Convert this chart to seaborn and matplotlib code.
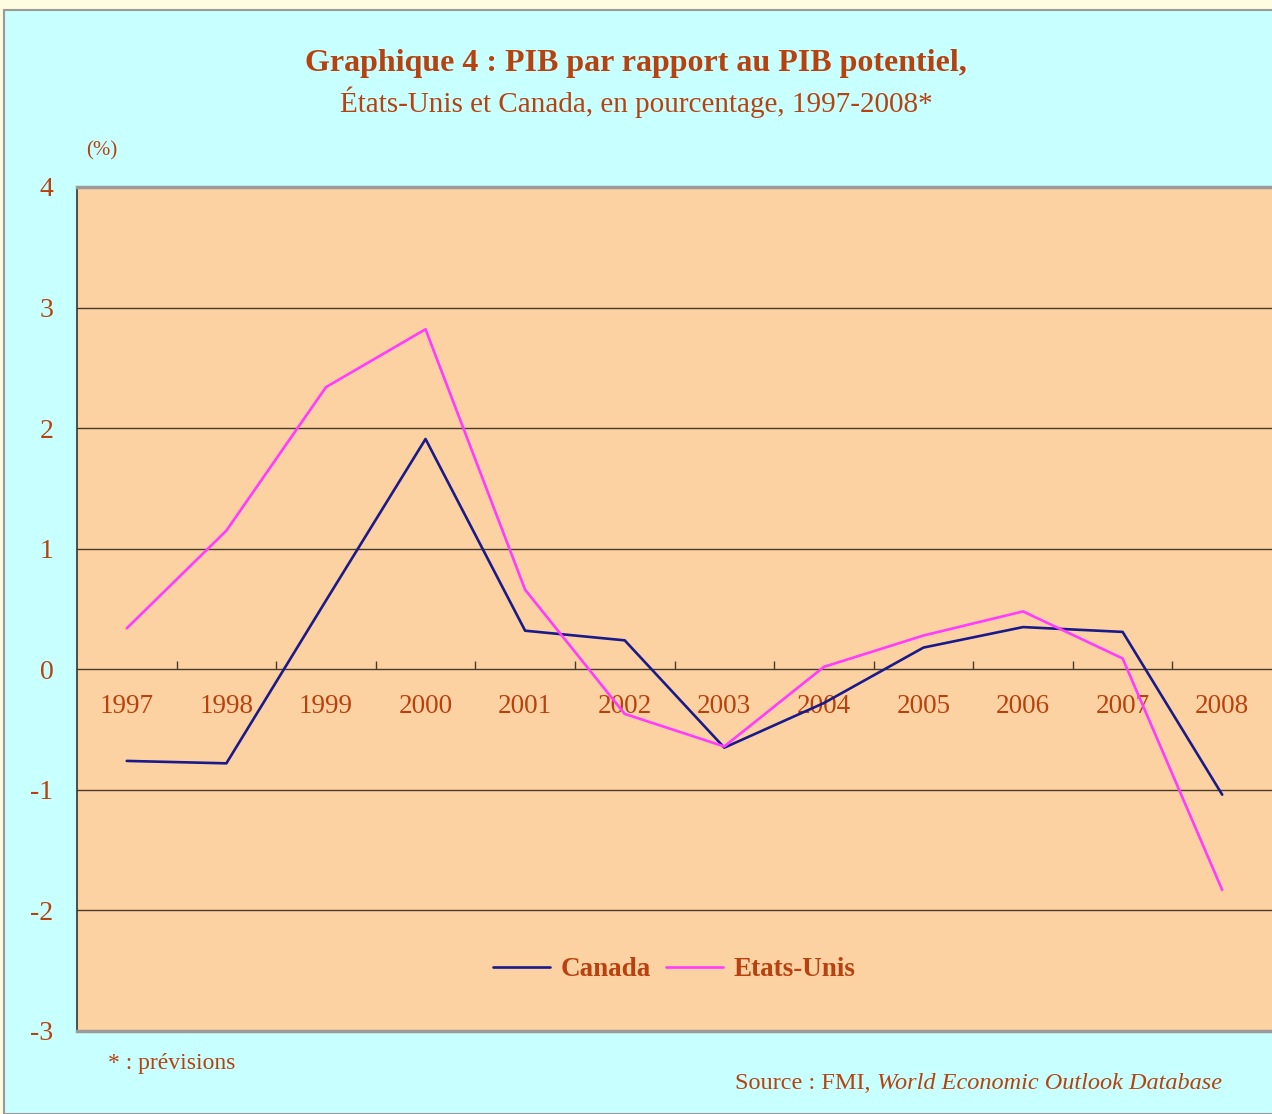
import pandas as pd
import seaborn as sns
import matplotlib.pyplot as plt
from matplotlib.patches import Rectangle

# données (écart du PIB au PIB potentiel, %)
annees = [1997, 1998, 1999, 2000, 2001, 2002, 2003, 2004, 2005, 2006, 2007, 2008]
canada = [-0.76, -0.78, 0.57, 1.91, 0.32, 0.24, -0.65, -0.28, 0.18, 0.35, 0.31, -1.04]
etats_unis = [0.34, 1.15, 2.34, 2.82, 0.66, -0.37, -0.64, 0.02, 0.28, 0.48, 0.09, -1.83]
graduations_y = [-3, -2, -1, 0, 1, 2, 3, 4]

rouille = "#B8420F"

df = pd.concat(
    [
        pd.DataFrame({"Année": annees, "Valeur": canada, "Pays": "Canada"}),
        pd.DataFrame({"Année": annees, "Valeur": etats_unis, "Pays": "Etats-Unis"}),
    ]
)

sns.set_style("white")
plt.rcParams["font.family"] = ["Liberation Serif", "DejaVu Serif"]

fig = plt.figure(figsize=(12.72, 11.14), dpi=100)
fig.patch.set_facecolor("#FFFDE0")
fig.patches.append(
    Rectangle((4 / 1272, 0), 1.0, 1 - 10 / 1114, transform=fig.transFigure,
              facecolor="#C8FFFF", edgecolor="#9A9A9A", linewidth=1.5, zorder=-5)
)

ax = fig.add_axes([77 / 1272, 1 - 1031 / 1114, 1195 / 1272, (1031 - 187) / 1114])
ax.set_facecolor("#FDD2A2")

sns.lineplot(
    data=df, x="Année", y="Valeur", hue="Pays",
    palette={"Canada": "#1A1A8A", "Etats-Unis": "#FF3CFF"},
    linewidth=1.9, ax=ax, zorder=3,
)

ax.set_xlim(annees[0] - 0.5, annees[-1] + 0.5)
ax.set_ylim(graduations_y[0], graduations_y[-1])
ax.set_yticks(graduations_y)
ax.set_yticklabels([str(v) for v in graduations_y], color=rouille, fontsize=20)
ax.tick_params(axis="y", length=0, pad=17)
ax.set_xticks([])
ax.set_xlabel("")
ax.set_ylabel("")

# lignes horizontales de la grille
for v in graduations_y[1:-1]:
    ax.axhline(v, color="#4A3A2A", linewidth=1, zorder=1)

# petites graduations sur l'axe zéro et étiquettes des années
for a in annees[:-1]:
    ax.vlines(a + 0.5, 0, 0.07, color="#4A3A2A", linewidth=1, zorder=1)
for a in annees:
    ax.text(a, -0.31, str(a), ha="center", va="center", color=rouille, fontsize=19.5, zorder=2)

for s in ["top", "bottom"]:
    ax.spines[s].set_color("#9A9A9A")
    ax.spines[s].set_linewidth(2.5)
ax.spines["left"].set_color("#333333")
ax.spines["left"].set_linewidth(1.2)
ax.spines["right"].set_visible(False)

leg = ax.legend(
    loc="center", bbox_to_anchor=(0.5, 61 / 844), ncol=2, frameon=False,
    handlelength=2.1, columnspacing=0.55, handletextpad=0.4,
    prop={"family": "Liberation Serif", "weight": "bold", "size": 19.5},
)
for t in leg.get_texts():
    t.set_color(rouille)

fig.text(0.5, 1 - 64 / 1114, "Graphique 4 : PIB par rapport au PIB potentiel,",
         ha="center", va="center", color=rouille, fontsize=23, fontweight="bold")
fig.text(0.5, 1 - 102 / 1114, "États-Unis et Canada, en pourcentage, 1997-2008*",
         ha="center", va="center", color=rouille, fontsize=21)
fig.text(102 / 1272, 1 - 151 / 1114, "(%)", ha="center", va="center", color=rouille, fontsize=15)
fig.text(108 / 1272, 1 - 1063 / 1114, "* : prévisions", ha="left", va="center",
         color=rouille, fontsize=17)

# source : partie droite en italique, partie gauche collée à sa gauche
y_src = 1 - 1089 / 1114
src = fig.text(1222 / 1272, y_src, "World Economic Outlook Database",
               ha="right", va="baseline", color=rouille, fontsize=17.5, style="italic")
fig.canvas.draw()
x0 = src.get_window_extent().x0 / fig.bbox.width
fig.text(x0, y_src, "Source : FMI, ", ha="right", va="baseline",
         color=rouille, fontsize=17.5)

plt.savefig("out.png", dpi=100, facecolor=fig.get_facecolor())
